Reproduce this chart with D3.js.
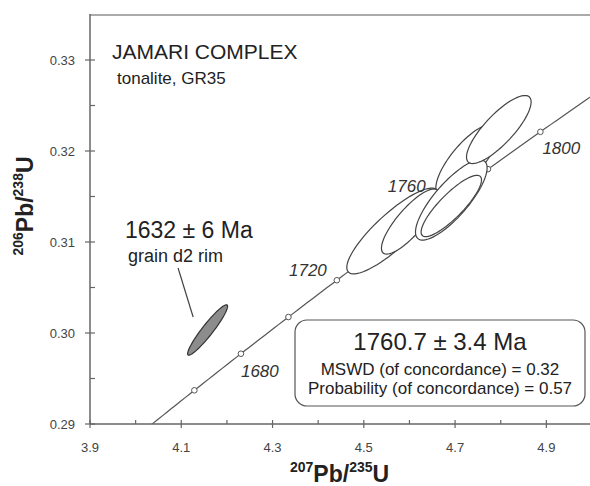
<!DOCTYPE html>
<html>
<head>
<meta charset="utf-8">
<script src="https://cdn.jsdelivr.net/npm/d3@7"></script>
<style>
  body { margin: 0; background: #fff; }
  text { font-family: "Liberation Sans", Arial, sans-serif; fill: #222; }
</style>
</head>
<body>
<div class="concordia"></div>
<script>
// data (drawing order: back to front)
var ellX    = [4.7268, 4.5634, 4.6018, 4.6917, 4.6917, 4.7958];
var ellXErr = [0.0689, 0.1007, 0.0632, 0.0785, 0.0662, 0.0708];
var ellY    = [0.31901, 0.31121, 0.31225, 0.31462, 0.31396, 0.32236];
var ellYErr = [0.00396, 0.00471, 0.00358, 0.00441, 0.00337, 0.00374];
var ellRho  = [0.77, 0.85, 0.82, 0.80, 0.85, 0.81];

var rimX = [4.1577], rimXErr = [0.0438], rimY = [0.30033], rimYErr = [0.00277], rimRho = [0.94];

var markerAges = [1660, 1680, 1700, 1720, 1740, 1760, 1780, 1800];
var labelAges = [1680, 1720, 1760, 1800];
var xTicks = [3.9, 4.1, 4.3, 4.5, 4.7, 4.9];
var xMinor = [4.0, 4.2, 4.4, 4.6, 4.8];
var yTicks = [0.29, 0.30, 0.31, 0.32, 0.33];
var yMinor = [0.295, 0.305, 0.315, 0.325];

// decay constants (per Ma)
var l238 = 1.55125e-4, l235 = 9.8485e-4;

function concordia() {

    var width = 590, height = 486;

    var svg = d3.select('.concordia')
        .append('svg')
        .attr("width", width)
        .attr("height", height);

    var x = d3.scaleLinear().domain([3.9, 5.0]).range([90, 592]);
    var y = d3.scaleLinear().domain([0.29, 0.335]).range([424, 14.5]);

    svg.append("defs").append("clipPath").attr("id", "plot")
        .append("rect").attr("x", 90).attr("y", 14.5).attr("width", 500).attr("height", 409.5);

    function cx(t) { return Math.exp(l235 * t) - 1; }
    function cy(t) { return Math.exp(l238 * t) - 1; }

    // frame
    svg.append("line").attr("x1", 90).attr("x2", 590).attr("y1", 15).attr("y2", 15)
        .attr("stroke", "#aaa").attr("stroke-width", 2);

    // concordia curve
    var ts = d3.range(1620, 1840, 2);
    var line = d3.line()
        .x(function(t) { return x(cx(t)); })
        .y(function(t) { return y(cy(t)); });

    var g = svg.append("g").attr("clip-path", "url(#plot)");
    g.append("path").datum(ts).attr("d", line)
        .attr("fill", "none").attr("stroke", "#555").attr("stroke-width", 1.2);

    g.selectAll("circle.age").data(markerAges).enter().append("circle")
        .attr("class", "age")
        .attr("cx", function(t) { return x(cx(t)); })
        .attr("cy", function(t) { return y(cy(t)); })
        .attr("r", 2.8)
        .attr("fill", "#fff").attr("stroke", "#555").attr("stroke-width", 1);

    var labelOff = { 1680: [0, 23, "start"], 1720: [-10, -4, "end"], 1760: [-11, -14, "end"], 1800: [2, 22, "start"] };
    svg.selectAll("text.age").data(labelAges).enter().append("text")
        .attr("class", "age")
        .attr("x", function(t) { return x(cx(t)) + labelOff[t][0]; })
        .attr("y", function(t) { return y(cy(t)) + labelOff[t][1]; })
        .attr("text-anchor", function(t) { return labelOff[t][2]; })
        .attr("font-style", "italic").attr("font-size", 17).style("fill", "#333")
        .text(function(d) { return d; });

    // error ellipses
    function ellipse(mx, sx, my, sy, r) {
        var k = Math.sqrt(1 - r * r);
        var pts = d3.range(0, 73).map(function(i) {
            var a = i / 72 * 2 * Math.PI;
            return [x(mx + sx * Math.cos(a)), y(my + sy * (r * Math.cos(a) + k * Math.sin(a)))];
        });
        return d3.line()(pts) + "Z";
    }

    var ells = d3.range(ellX.length);
    g.selectAll("path.ell").data(ells).enter().append("path")
        .attr("class", "ell")
        .attr("d", function(i) { return ellipse(ellX[i], ellXErr[i], ellY[i], ellYErr[i], ellRho[i]); })
        .attr("fill", "#fff").attr("stroke", "#444").attr("stroke-width", 1.2);

    g.selectAll("path.rim").data(d3.range(rimX.length)).enter().append("path")
        .attr("class", "rim")
        .attr("d", function(i) { return ellipse(rimX[i], rimXErr[i], rimY[i], rimYErr[i], rimRho[i]); })
        .attr("fill", "#8c8c8c").attr("stroke", "#333").attr("stroke-width", 1.2);

    // leader line to the rim grain
    svg.append("line")
        .attr("x1", x(4.093)).attr("y1", y(0.30714))
        .attr("x2", x(4.126)).attr("y2", y(0.30176))
        .attr("stroke", "#444").attr("stroke-width", 1.2);

    // axes
    var xAxis = svg.append("g").attr("class", "x-axis");
    xAxis.append("line").attr("x1", 90).attr("x2", 590).attr("y1", 424).attr("y2", 424)
        .attr("stroke", "#666").attr("stroke-width", 1.5);
    xAxis.selectAll("line.maj").data(xTicks).enter().append("line")
        .attr("x1", x).attr("x2", x).attr("y1", 420).attr("y2", 428)
        .attr("stroke", "#666").attr("stroke-width", 1.2);
    xAxis.selectAll("line.min").data(xMinor).enter().append("line")
        .attr("x1", x).attr("x2", x).attr("y1", 420).attr("y2", 424)
        .attr("stroke", "#666").attr("stroke-width", 1.2);
    xAxis.selectAll("text").data(xTicks).enter().append("text")
        .attr("x", x).attr("y", 452).attr("text-anchor", "middle")
        .attr("font-size", 13).style("fill", "#444")
        .text(d3.format(".1f"));

    var yAxis = svg.append("g").attr("class", "y-axis");
    yAxis.append("line").attr("x1", 90).attr("x2", 90).attr("y1", 14).attr("y2", 424)
        .attr("stroke", "#666").attr("stroke-width", 1.5);
    yAxis.selectAll("line.maj").data(yTicks).enter().append("line")
        .attr("y1", y).attr("y2", y).attr("x1", 85).attr("x2", 95)
        .attr("stroke", "#666").attr("stroke-width", 1.2);
    yAxis.selectAll("line.min").data(yMinor).enter().append("line")
        .attr("y1", y).attr("y2", y).attr("x1", 90).attr("x2", 95)
        .attr("stroke", "#666").attr("stroke-width", 1.2);
    yAxis.selectAll("text").data(yTicks).enter().append("text")
        .attr("x", 75).attr("y", function(d) { return y(d) + 4.5; }).attr("text-anchor", "end")
        .attr("font-size", 13).style("fill", "#444")
        .text(d3.format(".2f"));

    // axis titles
    var xt = svg.append("text").attr("x", 290).attr("y", 482).attr("font-weight", "bold").attr("font-size", 23);
    xt.append("tspan").attr("font-size", 14).attr("dy", -10).text("207");
    xt.append("tspan").attr("dy", 10).text("Pb/");
    xt.append("tspan").attr("font-size", 14).attr("dy", -10).text("235");
    xt.append("tspan").attr("dy", 10).text("U");

    var yt = svg.append("text").attr("transform", "translate(33,206) rotate(-90)")
        .attr("text-anchor", "middle").attr("font-weight", "bold").attr("font-size", 23);
    yt.append("tspan").attr("font-size", 14).attr("dy", -10).text("206");
    yt.append("tspan").attr("dy", 10).text("Pb/");
    yt.append("tspan").attr("font-size", 14).attr("dy", -10).text("238");
    yt.append("tspan").attr("dy", 10).text("U");

    // annotations
    svg.append("text").attr("x", 112).attr("y", 59).attr("font-size", 21).text("JAMARI COMPLEX");
    svg.append("text").attr("x", 117).attr("y", 84).attr("font-size", 17).text("tonalite, GR35");
    svg.append("text").attr("x", 125).attr("y", 238).attr("font-size", 23).text("1632 \u00b1 6 Ma");
    svg.append("text").attr("x", 128).attr("y", 262).attr("font-size", 18).text("grain d2 rim");

    svg.append("rect").attr("x", 295).attr("y", 320).attr("width", 290).attr("height", 86)
        .attr("rx", 12).attr("fill", "#fff").attr("stroke", "#555").attr("stroke-width", 1.2);
    svg.append("text").attr("x", 440).attr("y", 350).attr("text-anchor", "middle")
        .attr("font-size", 24).text("1760.7 \u00b1 3.4 Ma");
    svg.append("text").attr("x", 440).attr("y", 375).attr("text-anchor", "middle")
        .attr("font-size", 17).text("MSWD (of concordance) = 0.32");
    svg.append("text").attr("x", 440).attr("y", 394).attr("text-anchor", "middle")
        .attr("font-size", 17).text("Probability (of concordance) = 0.57");
}

concordia();
</script>
</body>
</html>
